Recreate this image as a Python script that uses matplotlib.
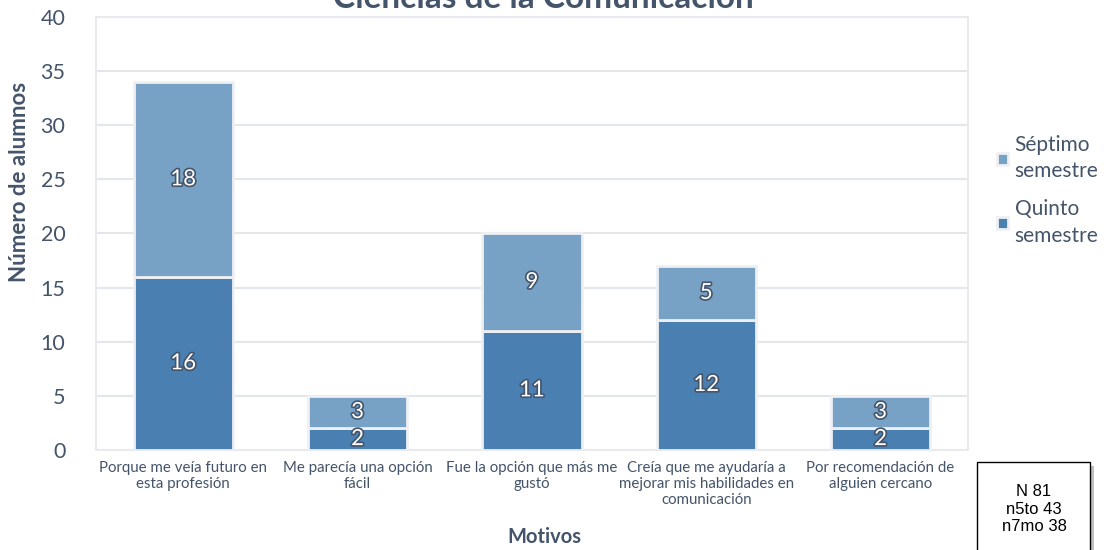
import matplotlib.pyplot as plt
import matplotlib.patheffects as pe
from matplotlib.patches import Rectangle
import numpy as np

# Motivos para elegir la carrera, por semestre
motivos = [
    "Porque me veía futuro en\nesta profesión",
    "Me parecía una opción\nfácil",
    "Fue la opción que más me\ngustó",
    "Creía que me ayudaría a\nmejorar mis habilidades en\ncomunicación",
    "Por recomendación de\nalguien cercano",
]
quinto = [16, 2, 11, 12, 2]
septimo = [18, 3, 9, 5, 3]
yticks = [0, 5, 10, 15, 20, 25, 30, 35, 40]

c_quinto = "#4a7fb1"
c_septimo = "#77a2c6"
c_text = "#44546a"
c_grid = "#e3e6ea"

plt.rcParams["font.family"] = ["Lato", "DejaVu Sans"]

fig = plt.figure(figsize=(11.09, 5.5), dpi=100)
ax = fig.add_axes([0.0866, 0.182, 0.786, 0.787])

x = np.arange(len(motivos))
w = 0.57
b1 = ax.bar(x, quinto, w, color=c_quinto, edgecolor="#eef0f3", linewidth=2, zorder=3)
b2 = ax.bar(x, septimo, w, bottom=quinto, color=c_septimo, edgecolor="#eef0f3",
            linewidth=2, zorder=3)

# etiquetas de valor: blancas con contorno oscuro
stroke = [pe.withStroke(linewidth=2.4, foreground="#44546a")]
for i in range(len(motivos)):
    ax.text(x[i], quinto[i] / 2, str(quinto[i]), ha="center", va="center",
            fontsize=16, color="white", path_effects=stroke, zorder=4)
    ax.text(x[i], quinto[i] + septimo[i] / 2, str(septimo[i]), ha="center", va="center",
            fontsize=16, color="white", path_effects=stroke, zorder=4)

ax.set_xlim(-0.5, len(motivos) - 0.5)
ax.set_ylim(0, 40)
ax.set_yticks(yticks)
ax.yaxis.grid(True, color=c_grid, linewidth=1.5, zorder=0)
ax.tick_params(axis="both", length=0, colors=c_text)
ax.tick_params(axis="y", labelsize=15.5, pad=22)
ax.tick_params(axis="x", labelsize=10.8, pad=8)
ax.set_xticks(x)
ax.set_xticklabels(motivos, color=c_text, linespacing=1.2)
for s in ax.spines.values():
    s.set_color("#e8eaed")
    s.set_linewidth(1.5)

ax.set_ylabel("Número de alumnos", fontsize=16, fontweight="bold", color=c_text)
ax.yaxis.set_label_coords(-0.076, 0.62)
fig.text(0.491, 1 - 537 / 550, "Motivos", fontsize=14.5, fontweight="bold", color=c_text,
         ha="center", va="center")
fig.text(0.49, 1 - 8 / 550, "Ciencias de la Comunicación", fontsize=24, fontweight="bold",
         color=c_text, ha="center", va="baseline")

leg = fig.legend([b2, b1], ["Séptimo\nsemestre", "Quinto\nsemestre"], loc="upper left",
                 bbox_to_anchor=(997 / 1109, 1 - 135 / 550), frameon=False, fontsize=15,
                 borderpad=0, borderaxespad=0,
                 handlelength=0.55, handleheight=0.55, handletextpad=0.3,
                 labelspacing=0.85, labelcolor=c_text)
for t in leg.get_texts():
    t.set_linespacing(1.4)

# recuadro con el tamaño de la muestra
box = Rectangle((977 / 1109, -0.02), 113 / 1109, 0.02 + 88 / 550, transform=fig.transFigure,
                facecolor="white", edgecolor="black", linewidth=1, zorder=5,
                path_effects=[pe.withSimplePatchShadow(offset=(3, -3), alpha=0.35)])
fig.patches.append(box)
fig.text(1034 / 1109, 1 - 509 / 550, "N 81\nn5to 43\nn7mo 38", fontsize=12,
         family="Liberation Sans", ha="center", va="center", linespacing=1.2, zorder=6)

fig.savefig("out.png", dpi=100)
